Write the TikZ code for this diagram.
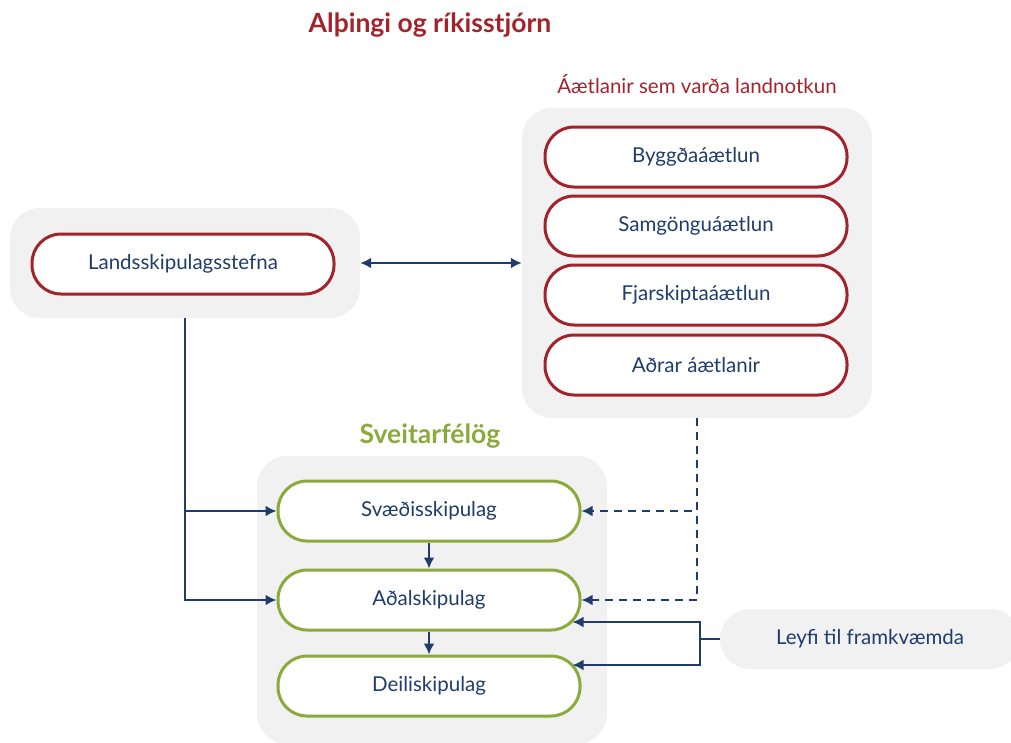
\documentclass[tikz,border=0pt]{standalone}
\usepackage{fontspec}
\setmainfont{Lato}
\usetikzlibrary{arrows.meta}
\definecolor{rautt}{HTML}{A3232B}
\definecolor{graent}{HTML}{8AAA3C}
\definecolor{blatt}{HTML}{1F3D6C}
\definecolor{grar}{HTML}{F1F1F1}
\tikzstyle{flotur}=[fill=grar, rounded corners=30pt, inner sep=0pt]
\tikzstyle{rpill}=[draw=rautt, line width=3pt, fill=white, rounded corners=29pt, minimum width=302pt, minimum height=60pt, text=blatt, font=\fontsize{20.5}{24}\selectfont]
\tikzstyle{gpill}=[rpill, draw=graent]
\tikzstyle{tengi}=[draw=blatt, line width=2.3pt, -{Latex[length=11pt,width=11pt]}]
\tikzstyle{stri}=[tengi, dash pattern=on 8pt off 6pt]
\tikzstyle{fyrirsogn}=[font=\fontsize{26.5}{30}\selectfont\bfseries]
\newcommand{\pill}{\node[rpill]}

\begin{document}
\begin{tikzpicture}[x=1pt,y=-1pt]
            \useasboundingbox (0,0) rectangle (1011,742);
            % bakgrunnar
            \node[flotur, minimum width=350pt, minimum height=110pt] (vinstri) at (185,263){};
            \node[flotur, minimum width=350pt, minimum height=310pt] (haegri) at (697,263){};
            \node[flotur, minimum width=350pt, minimum height=288pt] (nedri) at (432,600){};
            \node[flotur, minimum width=300pt, minimum height=60pt, text=blatt, font=\fontsize{20.5}{24}\selectfont] (leyfi) at (870,639){Leyfi til framkvæmda};
            % fyrirsagnir
            \node[fyrirsogn, text=rautt] (althingi) at (430,25){Alþingi og ríkisstjórn};
            \node[text=rautt, font=\fontsize{20.5}{24}\selectfont] (aaetlanir) at (697,84){Áætlanir sem varða landnotkun};
            \node[fyrirsogn, text=graent] (sveitarfelog) at (430,436){Sveitarfélög};
            % ríkið
            \pill (landsskip) at (183,264){Landsskipulagsstefna};
            \pill (byggda) at (696,157){Byggðaáætlun};
            \pill (samgongu) at (696,226){Samgönguáætlun};
            \pill (fjarskipta) at (696,295){Fjarskiptaáætlun};
            \pill (adrar) at (696,365){Aðrar áætlanir};
            % sveitarfélög
            \node[gpill] (svaedi) at (429,511){Svæðisskipulag};
            \node[gpill] (adal) at (429,600){Aðalskipulag};
            \node[gpill] (deili) at (429,686){Deiliskipulag};
            \coordinate (leyfiknot) at (700,639);
            % tengingar
            \draw[tengi, {Latex[length=11pt,width=11pt]}-{Latex[length=11pt,width=11pt]}] (vinstri.east) -- (haegri.west |- vinstri.east);
            \draw[tengi] (vinstri.south) |- (svaedi.west);
            \draw[tengi] (vinstri.south) |- (adal.west);
            \draw[tengi] (svaedi.south) -- (adal.north);
            \draw[tengi] (adal.south) -- (deili.north);
            \draw[stri] (haegri.south) |- (svaedi.east);
            \draw[stri] (haegri.south) |- (adal.east);
            \draw[draw=blatt, line width=2.3pt] (leyfi.west) -- (leyfiknot);
            \draw[tengi] (leyfiknot) |- ([xshift=-9pt,yshift=-22pt]adal.east);
            \draw[tengi] (leyfiknot) |- ([xshift=-9pt,yshift=21pt]deili.east);
        \end{tikzpicture}
\end{document}
